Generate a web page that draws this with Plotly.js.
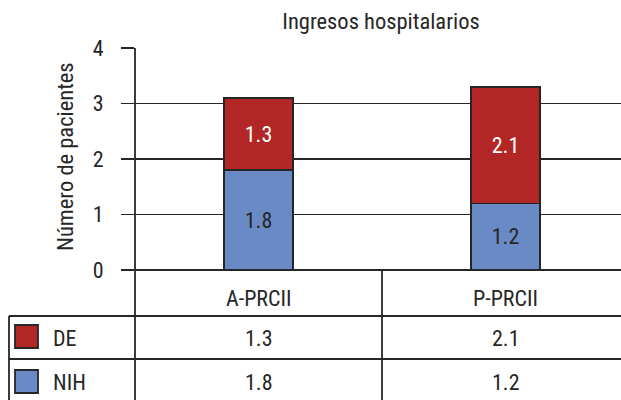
<!DOCTYPE html>
<html>
<head>
<meta charset="utf-8">
<script src="https://cdn.plot.ly/plotly-3.0.1.min.js"></script>
<style>
  html, body { margin: 0; padding: 0; background: #fff; }
  #chart { width: 621px; height: 400px; }
</style>
</head>
<body>
<div id="chart"></div>
<script>
const categories = ['A-PRCII', 'P-PRCII'];
const nihValues = [1.8, 1.2];
const deValues = [1.3, 2.1];
const yTickValues = [0, 1, 2, 3, 4];
const chartTitle = 'Ingresos hospitalarios';
const yAxisTitle = 'Número de pacientes';
const seriesLabels = { de: 'DE', nih: 'NIH' };

const W = 621, H = 400;
const px = x => x / W;
const py = y => 1 - y / H;

const FONT = '"Roboto Condensed", "Liberation Sans", Arial, sans-serif';
const INK = '#262626';
const RED = '#B32626';
const BLUE = '#6A8AC6';
const LW = 1.8;
const fmt = v => v.toFixed(1);

const traces = [
  {
    type: 'bar', name: seriesLabels.nih, x: categories, y: nihValues,
    text: nihValues.map(fmt), textposition: 'inside', insidetextanchor: 'middle',
    textfont: { family: FONT, size: 22, color: INK },
    marker: { color: BLUE, line: { color: INK, width: LW } },
    width: 69 / 247, hoverinfo: 'none', cliponaxis: false
  },
  {
    type: 'bar', name: seriesLabels.de, x: categories, y: deValues,
    text: deValues.map(fmt), textposition: 'inside', insidetextanchor: 'middle',
    textfont: { family: FONT, size: 22, color: '#ffffff' },
    marker: { color: RED, line: { color: INK, width: LW } },
    width: 69 / 247, hoverinfo: 'none', cliponaxis: false
  }
];

const shapes = [
  { type: 'line', xref: 'paper', yref: 'paper', x0: px(135), x1: px(135), y0: py(48), y1: py(400), line: { color: INK, width: LW } },
  { type: 'line', xref: 'paper', yref: 'paper', x0: px(382), x1: px(382), y0: py(270), y1: py(400), line: { color: INK, width: LW } },
  { type: 'line', xref: 'paper', yref: 'paper', x0: px(9), x1: px(9), y0: py(316), y1: py(400), line: { color: INK, width: LW } },
  { type: 'line', xref: 'paper', yref: 'paper', x0: px(9), x1: 1, y0: py(316), y1: py(316), line: { color: INK, width: LW } },
  { type: 'line', xref: 'paper', yref: 'paper', x0: px(9), x1: 1, y0: py(359), y1: py(359), line: { color: INK, width: LW } },
  { type: 'rect', xref: 'paper', yref: 'paper', x0: px(15), x1: px(38), y0: py(325), y1: py(348), fillcolor: RED, line: { color: INK, width: LW } },
  { type: 'rect', xref: 'paper', yref: 'paper', x0: px(15), x1: px(38), y0: py(370), y1: py(393), fillcolor: BLUE, line: { color: INK, width: LW } }
];

const tf = { family: FONT, size: 22, color: INK };
const annotations = [
  { text: yAxisTitle, xref: 'paper', yref: 'paper', x: px(65), y: py(157), textangle: -90, showarrow: false, font: { family: FONT, size: 22.5, color: INK }, xanchor: 'center', yanchor: 'middle' },
  { text: seriesLabels.de, xref: 'paper', yref: 'paper', x: px(51), y: py(338), showarrow: false, font: tf, xanchor: 'left', yanchor: 'middle' },
  { text: seriesLabels.nih, xref: 'paper', yref: 'paper', x: px(51), y: py(382), showarrow: false, font: tf, xanchor: 'left', yanchor: 'middle' }
];
categories.forEach((c, i) => {
  annotations.push({ text: c, xref: 'x', yref: 'paper', x: c, y: py(298), showarrow: false, font: tf, xanchor: 'center', yanchor: 'middle' });
  annotations.push({ text: fmt(deValues[i]), xref: 'x', yref: 'paper', x: c, y: py(338), showarrow: false, font: tf, xanchor: 'center', yanchor: 'middle' });
  annotations.push({ text: fmt(nihValues[i]), xref: 'x', yref: 'paper', x: c, y: py(382), showarrow: false, font: tf, xanchor: 'center', yanchor: 'middle' });
});

const layout = {
  width: W, height: H,
  margin: { l: 0, r: 0, t: 0, b: 0 },
  paper_bgcolor: '#fff', plot_bgcolor: '#fff',
  showlegend: false,
  barmode: 'stack',
  font: { family: FONT, color: INK },
  title: { text: chartTitle, x: px(381), xanchor: 'center', y: py(21), yanchor: 'middle', yref: 'container', font: { family: FONT, size: 22.5, color: INK } },
  xaxis: {
    type: 'category', domain: [px(135), 1], range: [-0.5, -0.5 + 486 / 247],
    showticklabels: false, ticks: '', showgrid: false, zeroline: false, showline: false, fixedrange: true
  },
  yaxis: {
    domain: [py(270), py(48)], range: [0, 4],
    tickvals: yTickValues, ticktext: yTickValues.map(String),
    ticks: 'outside', ticklen: 13, tickwidth: LW, tickcolor: INK,
    ticklabelstandoff: 13,
    tickfont: { family: FONT, size: 22, color: INK },
    showgrid: true, gridcolor: INK, gridwidth: LW,
    zeroline: true, zerolinecolor: INK, zerolinewidth: LW,
    showline: false, fixedrange: true
  },
  shapes, annotations
};

Plotly.newPlot('chart', traces, layout, { staticPlot: true, displayModeBar: false });
</script>
</body>
</html>
